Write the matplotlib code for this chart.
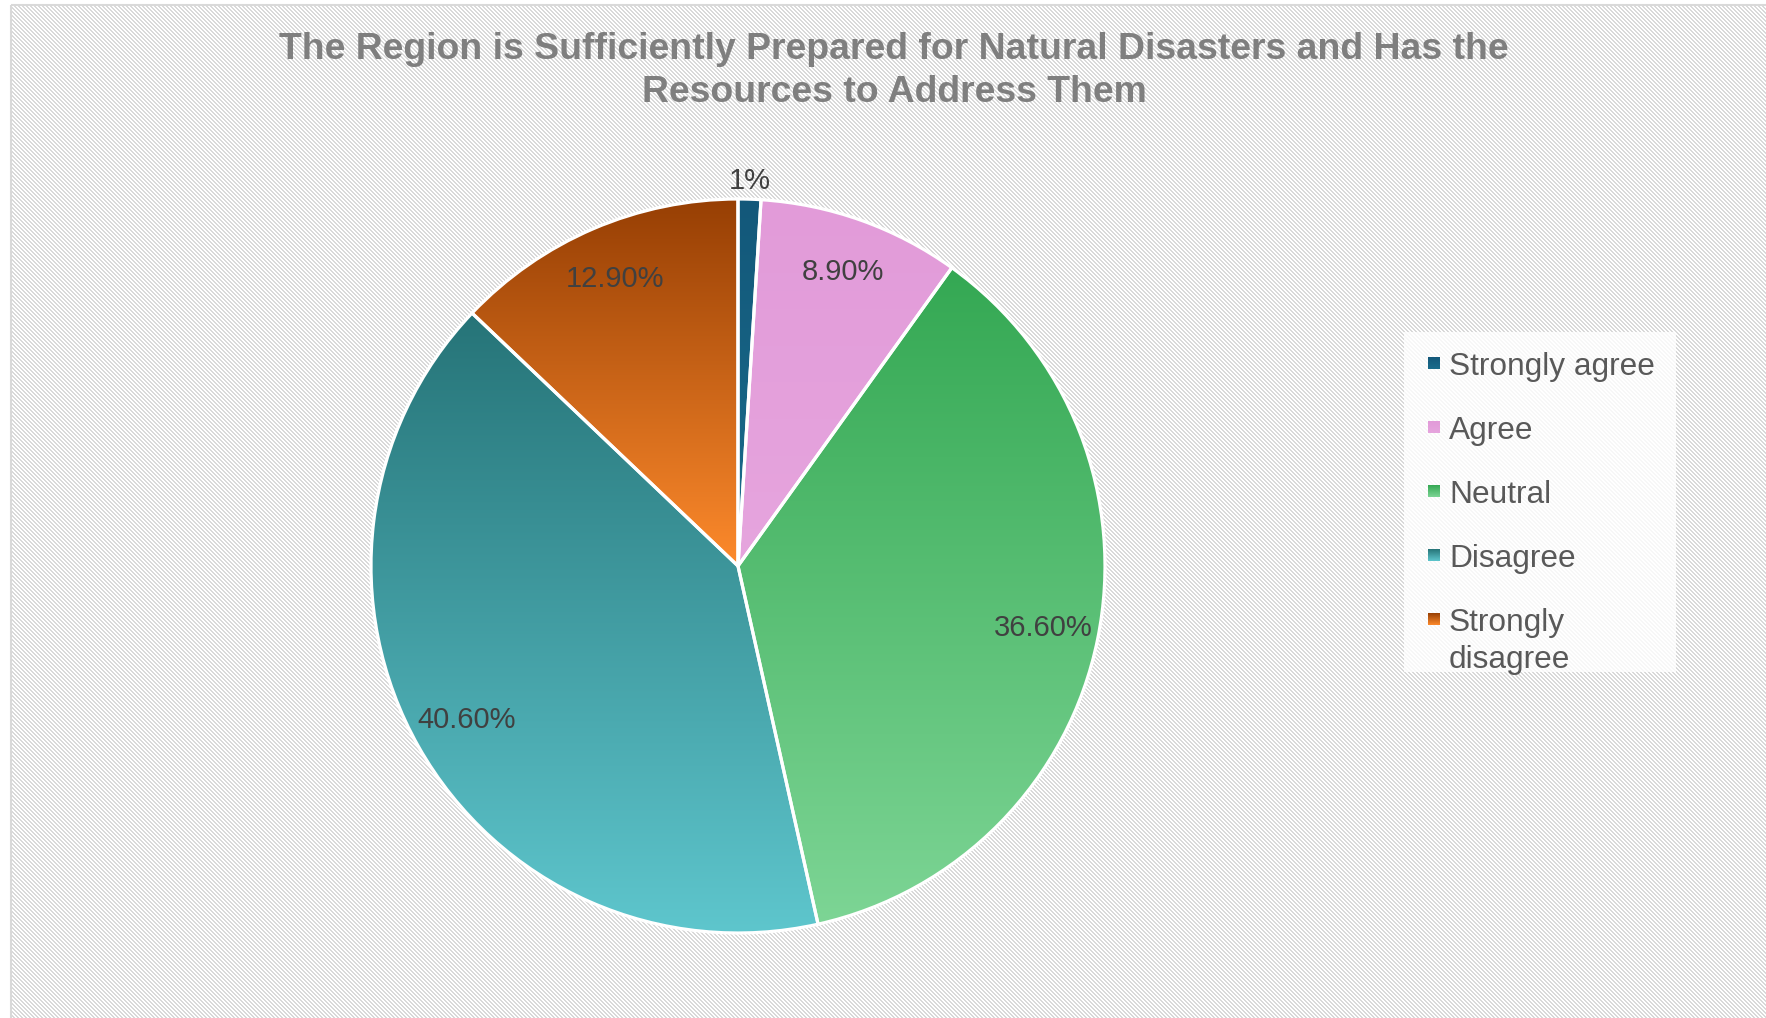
import textwrap
import numpy as np
import matplotlib
matplotlib.use("Agg")
import matplotlib.pyplot as plt
from matplotlib.colors import LinearSegmentedColormap
from matplotlib.patches import Rectangle

plt.rcParams["font.family"] = ["Liberation Sans", "DejaVu Sans"]

# ---------------- data ----------------
title_lines = ["The Region is Sufficiently Prepared for Natural Disasters and Has the",
               "Resources to Address Them"]
categories = ["Strongly agree", "Agree", "Neutral", "Disagree", "Strongly disagree"]
shares = [1.0, 8.9, 36.6, 40.6, 12.9]
pct_labels = ["1%", "8.90%", "36.60%", "40.60%", "12.90%"]
top_colors = ["#13587a", "#e29bd9", "#34a853", "#267478", "#973f04"]
bottom_colors = ["#1a6c8c", "#e6a5de", "#7dd595", "#5ec6cd", "#fd8a2c"]

# ---------------- figure ----------------
W, H, DPI = 1766, 1018, 100
fig = plt.figure(figsize=(W / DPI, H / DPI), dpi=DPI)

# background axes in pixel coordinates
ax_bg = fig.add_axes([0, 0, 1, 1])
ax_bg.set_autoscale_on(False)
ax_bg.set_xlim(0, W)
ax_bg.set_ylim(H, 0)
ax_bg.axis("off")

yy, xx = np.mgrid[0:H, 0:W]
stripe = ((xx - yy) % 4) < 2
bg = np.ones((H, W, 3))
g = 0xd9 / 255
bg[stripe] = [g, g, g]
bg[:, :12] = 1.0
bg[:5, :] = 1.0
ax_bg.imshow(bg, extent=(0, W, H, 0), interpolation="none", aspect="auto", zorder=0)
ax_bg.plot([11, 11], [H + 5, 4.5], color="#d9d9d9", lw=1.5, zorder=1, solid_capstyle="butt")
ax_bg.plot([11, W + 5], [4.5, 4.5], color="#d9d9d9", lw=1.5, zorder=1, solid_capstyle="butt")

# title
for i, line in enumerate(title_lines):
    fig.text(894 / W, 1 - (59 + 43 * i) / H, line, ha="center", va="baseline",
             fontsize=26.9, fontweight="bold", color="#7f7f7f")

# ---------------- pie ----------------
cx, cy, R = 738, 566, 367
lim = 1.15
ax = fig.add_axes([(cx - lim * R) / W, (H - cy - lim * R) / H, 2 * lim * R / W, 2 * lim * R / H])
wedges, _ = ax.pie(shares, startangle=90, counterclock=False, radius=1,
                   wedgeprops=dict(edgecolor="white", linewidth=2.3))
ax.set_xlim(-lim, lim)
ax.set_ylim(-lim, lim)
ax.set_aspect("auto")
ax.axis("off")
ax.patch.set_visible(False)

grad = np.linspace(0, 1, 256).reshape(-1, 1)
for w, c0, c1, lab, s in zip(wedges, top_colors, bottom_colors, pct_labels, shares):
    cmap = LinearSegmentedColormap.from_list("g", [c0, c1])
    ext = w.get_path().get_extents()
    im = ax.imshow(grad, cmap=cmap, extent=(ext.x0, ext.x1, ext.y0, ext.y1),
                   origin="upper", aspect="auto", zorder=1, interpolation="bilinear")
    im.set_clip_path(w)
    w.set_facecolor("none")
    w.set_zorder(3)
    mid = np.deg2rad((w.theta1 + w.theta2) / 2)
    d = 1.05 if s < 3 else 0.85
    ax.text(d * np.cos(mid), d * np.sin(mid), lab, ha="center", va="center",
            fontsize=21, color="#404040", zorder=5)
ax.set_xlim(-lim, lim)
ax.set_ylim(-lim, lim)

# ---------------- legend ----------------
ax_bg.add_patch(Rectangle((1404, 332), 272, 340, facecolor="white", alpha=0.8,
                          edgecolor="none", zorder=2))
base0, step, lstep = 375, 64, 37
for i, (cat, c0, c1) in enumerate(zip(categories, top_colors, bottom_colors)):
    base = base0 + step * i
    cmap = LinearSegmentedColormap.from_list("g", [c0, c1])
    my = base - 11.5
    ax_bg.imshow(grad, cmap=cmap, extent=(1428, 1440, my + 6, my - 6), origin="upper",
                 aspect="auto", zorder=3, interpolation="bilinear")
    for j, ln in enumerate(textwrap.wrap(cat, 14)):
        ax_bg.text(1449, base + lstep * j, ln, ha="left", va="baseline",
                   fontsize=22.8, color="#595959", zorder=4)
ax_bg.set_xlim(0, W)
ax_bg.set_ylim(H, 0)

fig.savefig("out.png", dpi=DPI)
